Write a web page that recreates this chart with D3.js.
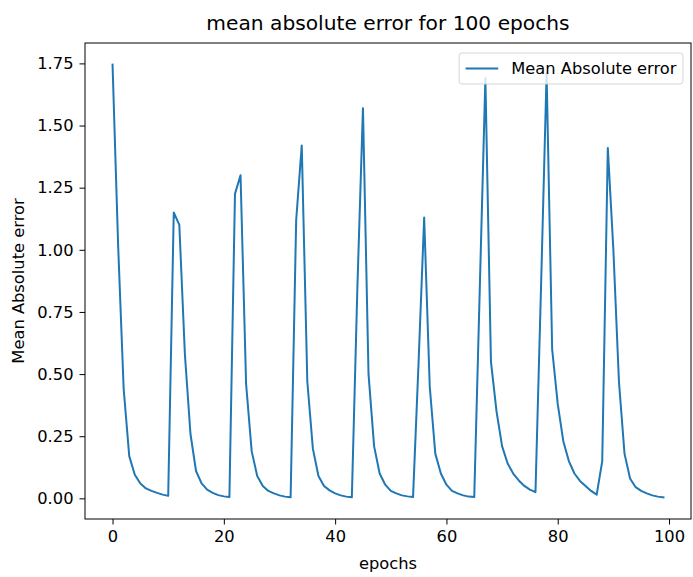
<!DOCTYPE html>
<meta charset="utf-8">
<style>
body { margin: 0; background: #fff; }
text { font-family: "DejaVu Sans", sans-serif; fill: #000; }
.axis path, .axis line { stroke: #000; stroke-width: 1; }
</style>
<svg width="693" height="577"></svg>
<script src="https://d3js.org/d3.v7.min.js"></script>
<script>

// epochs 0..99 and the error per epoch
var epochs = d3.range(100);
var mae = [
  1.745, 1.02, 0.44, 0.17, 0.095, 0.06, 0.04, 0.03, 0.022, 0.015,
  0.01, 1.15, 1.10, 0.58, 0.26, 0.11, 0.06, 0.035, 0.022, 0.013,
  0.008, 0.005, 1.225, 1.30, 0.46, 0.19, 0.09, 0.05, 0.03, 0.02,
  0.012, 0.007, 0.004, 1.12, 1.42, 0.47, 0.20, 0.09, 0.05, 0.032,
  0.02, 0.012, 0.007, 0.004, 0.85, 1.57, 0.50, 0.21, 0.10, 0.055,
  0.03, 0.02, 0.012, 0.008, 0.005, 0.55, 1.13, 0.45, 0.18, 0.10,
  0.055, 0.03, 0.02, 0.012, 0.007, 0.005, 0.85, 1.69, 0.55, 0.35,
  0.21, 0.14, 0.10, 0.072, 0.05, 0.035, 0.025, 0.85, 1.71, 0.60,
  0.38, 0.23, 0.15, 0.10, 0.07, 0.05, 0.03, 0.015, 0.15, 1.41,
  1.0, 0.47, 0.18, 0.08, 0.045, 0.03, 0.02, 0.012, 0.007, 0.004
];
var xTicks = [0, 20, 40, 60, 80, 100];
var yTicks = [0, 0.25, 0.5, 0.75, 1.0, 1.25, 1.5, 1.75];

var titleText = "mean absolute error for 100 epochs";
var xLabel = "epochs";
var yLabel = "Mean Absolute error";
var seriesName = "Mean Absolute error";

var svg = d3.select("svg");
var margin = {top: 43, right: 2, bottom: 58, left: 85},
    width = 693 - margin.left - margin.right,
    height = 577 - margin.top - margin.bottom;

var FONT = 16.3;

// matplotlib style 5% margins
function padded(ext) {
  var r = ext[1] - ext[0];
  return [ext[0] - 0.05 * r, ext[1] + 0.05 * r];
}

var x = d3.scaleLinear().domain(padded(d3.extent(epochs))).range([0, width]);
var y = d3.scaleLinear().domain(padded(d3.extent(mae))).range([height, 0]);

var g = svg.append("g").attr("transform", "translate(" + margin.left + "," + margin.top + ")");

/************* AXES ***************/
g.append("g")
    .attr("class", "axis")
    .attr("transform", "translate(0," + height + ")")
    .call(d3.axisBottom(x).tickValues(xTicks).tickSize(5.5).tickPadding(6).tickFormat(d3.format("d")));

g.append("g")
    .attr("class", "axis")
    .call(d3.axisLeft(y).tickValues(yTicks).tickSize(5.5).tickPadding(6).tickFormat(d3.format(".2f")));

g.selectAll(".axis text")
    .style("font-family", '"DejaVu Sans", sans-serif')
    .style("font-size", FONT + "px")
    .attr("fill", "#000");
g.selectAll(".axis .domain").remove();

// full frame round the plot
g.append("rect")
    .attr("width", width)
    .attr("height", height)
    .attr("fill", "none")
    .attr("stroke", "#000")
    .attr("stroke-width", 1);

/************* LINE ***************/
var line = d3.line()
    .x(function(d, i) { return x(epochs[i]); })
    .y(function(d) { return y(d); });

g.append("path")
    .datum(mae)
    .attr("fill", "none")
    .attr("stroke", "#1f77b4")
    .attr("stroke-width", 2)
    .attr("stroke-linejoin", "round")
    .attr("stroke-linecap", "square")
    .attr("d", line);

/************* LEGEND ***************/
var legend = g.append("g");
var legBox = legend.append("rect")
    .attr("rx", 3)
    .attr("fill", "#fff")
    .attr("fill-opacity", 0.8)
    .attr("stroke", "#ccc")
    .attr("stroke-opacity", 0.8)
    .attr("stroke-width", 1);
var legText = legend.append("text")
    .style("font-size", FONT + "px")
    .attr("dy", "0.35em")
    .text(seriesName);
var tw = legText.node().getComputedTextLength();
var boxW = 6.5 + 32.6 + 13 + tw + 6.5,
    boxH = 31,
    boxX = width - 8 - boxW,
    boxY = 10;
legBox.attr("x", boxX).attr("y", boxY).attr("width", boxW).attr("height", boxH);
legend.append("line")
    .attr("x1", boxX + 6.5).attr("x2", boxX + 6.5 + 32.6)
    .attr("y1", boxY + boxH / 2).attr("y2", boxY + boxH / 2)
    .attr("stroke", "#1f77b4")
    .attr("stroke-width", 2);
legText.attr("x", boxX + 6.5 + 32.6 + 13).attr("y", boxY + boxH / 2);

/************* LABELS ***************/
svg.append("text")
    .attr("x", margin.left + width / 2)
    .attr("y", 30)
    .attr("text-anchor", "middle")
    .style("font-size", "20.2px")
    .text(titleText);

svg.append("text")
    .attr("x", margin.left + width / 2)
    .attr("y", 569)
    .attr("text-anchor", "middle")
    .style("font-size", FONT + "px")
    .text(xLabel);

svg.append("text")
    .attr("transform", "translate(24," + (margin.top + height / 2) + ") rotate(-90)")
    .attr("text-anchor", "middle")
    .style("font-size", FONT + "px")
    .text(yLabel);

</script>
